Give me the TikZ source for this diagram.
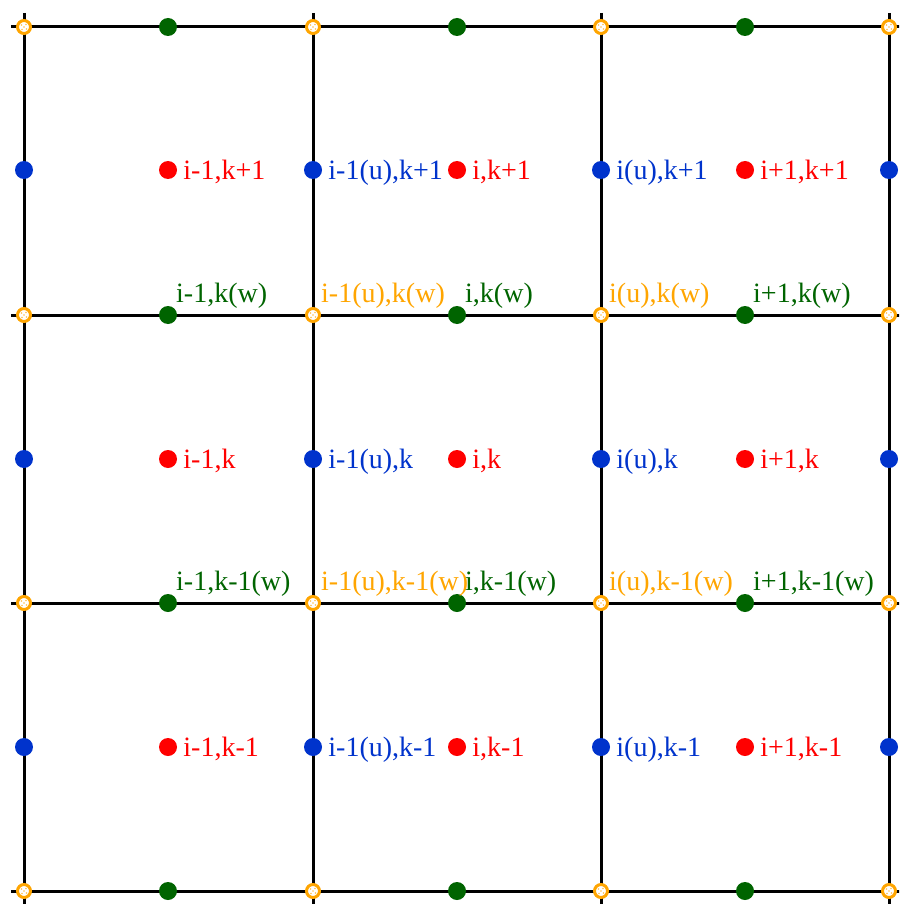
\documentclass[tikz,border=0pt]{standalone}
\usepackage{fontspec}
\setmainfont{Liberation Serif}
\definecolor{cred}{RGB}{255,0,0}
\definecolor{cblue}{RGB}{0,51,204}
\definecolor{cgreen}{RGB}{0,100,0}
\definecolor{corange}{RGB}{255,165,0}
\begin{document}
\begin{tikzpicture}[x=1pt,y=-1pt,
  gridline/.style={line width=3pt,black},
  rdot/.style={circle,fill=cred,inner sep=0pt,minimum size=18pt},
  bdot/.style={circle,fill=cblue,inner sep=0pt,minimum size=18pt},
  gdot/.style={circle,fill=cgreen,inner sep=0pt,minimum size=18pt},
  odot/.style={circle,fill=white,draw=corange,line width=3pt,inner sep=0pt,minimum size=13pt},
  lbl/.style={anchor=base west,inner sep=0pt,font=\fontsize{28}{31}\selectfont},
]
\useasboundingbox (0,0) rectangle (899,904);
\begin{scope}
\clip (0,0) rectangle (899,904);
% grid lines
\foreach \x/\n in {24/a,313/b,601/c,889/d} {
  \coordinate (vt\n) at (\x,13);
  \coordinate (vb\n) at (\x,905);
  \draw[gridline] (vt\n) -- (vb\n);
}
\foreach \y/\n in {27/a,315/b,603/c,891/d} {
  \coordinate (hl\n) at (11,\y);
  \coordinate (hr\n) at (905,\y);
  \draw[gridline] (hl\n) -- (hr\n);
}
\end{scope}
% orange corner points
\foreach \x/\i in {24/1,313/2,601/3,889/4} {
  \foreach \y/\j in {27/1,315/2,603/3,891/4} {
    \node[odot] (o\i\j) at (\x,\y) {};
    \fill[corange!70] (\x-2.5,\y-2) circle (0.9pt) (\x+2,\y-2.5) circle (0.9pt) (\x-2,\y+2.5) circle (0.9pt) (\x+2.5,\y+2) circle (0.9pt) (\x,\y) circle (0.9pt);
  }
}
% green points
\foreach \x/\i in {168/1,457/2,745/3} {
  \foreach \y/\j in {27/1,315/2,603/3,891/4} {
    \node[gdot] (g\i\j) at (\x,\y) {};
  }
}
% blue points
\foreach \x/\i in {24/1,313/2,601/3,889/4} {
  \foreach \y/\j in {170/1,459/2,747/3} {
    \node[bdot] (b\i\j) at (\x,\y) {};
  }
}
% red points
\foreach \x/\i in {168/1,457/2,745/3} {
  \foreach \y/\j in {170/1,459/2,747/3} {
    \node[rdot] (r\i\j) at (\x,\y) {};
  }
}
% red labels
\foreach \i/\a in {1/i-1,2/i,3/i+1} {
  \foreach \j/\b in {1/k+1,2/k,3/k-1} {
    \node[lbl,text=cred] (rl\i\j) at ([xshift=6pt,yshift=-9pt]r\i\j.east) {\a,\b};
  }
}
% blue labels
\foreach \i/\a in {2/i-1(u),3/i(u)} {
  \foreach \j/\b in {1/k+1,2/k,3/k-1} {
    \node[lbl,text=cblue] (bl\i\j) at ([xshift=6pt,yshift=-9pt]b\i\j.east) {\a,\b};
  }
}
% orange labels
\foreach \i/\a in {2/i-1(u),3/i(u)} {
  \foreach \j/\b in {2/k(w),3/k-1(w)} {
    \node[lbl,text=corange] (ol\i\j) at ([xshift=8pt,yshift=13pt]o\i\j.center) {\a,\b};
  }
}
% green labels
\foreach \i/\a in {1/i-1,2/i,3/i+1} {
  \foreach \j/\b in {2/k(w),3/k-1(w)} {
    \node[lbl,text=cgreen] (gl\i\j) at ([xshift=8pt,yshift=13pt]g\i\j.center) {\a,\b};
  }
}
\end{tikzpicture}
\end{document}
